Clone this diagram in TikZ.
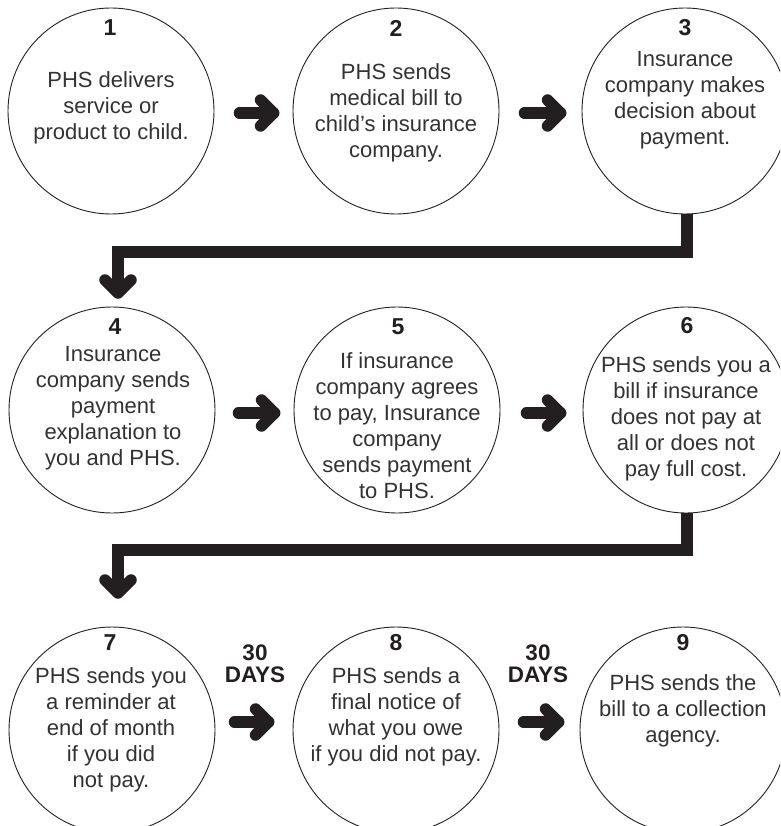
\documentclass[tikz,border=0pt]{standalone}
\usepackage{fontspec}
\setmainfont{Liberation Sans}
\usetikzlibrary{calc}
\definecolor{ink}{RGB}{35,31,32}
\definecolor{txtc}{RGB}{50,50,50}
\begin{document}
\begin{tikzpicture}[x=1pt,y=-1pt,
 circ/.style={circle,draw=ink,line width=0.9pt,minimum size=206pt,inner sep=0pt},
 num/.style={font=\fontsize{23}{24}\selectfont\bfseries,text=ink,inner sep=0pt},
 txt/.style={font=\fontsize{22}{26}\selectfont,text=txtc,align=center,inner sep=0pt},
 days/.style={font=\fontsize{22.5}{22}\selectfont\bfseries,text=ink,align=center,inner sep=0pt},
 shaft/.style={draw=ink,line width=11.5pt,line cap=round,line join=round},
 conn/.style={draw=ink,line width=11.5pt,line join=miter}]
\useasboundingbox (0,0) rectangle (780,826);
\clip (0,0) rectangle (780,826);

% circles
\node[circ] (c1) at (111,111) {};
\node[circ] (c2) at (396,111) {};
\node[circ] (c3) at (685,111) {};
\node[circ] (c4) at (112,410) {};
\node[circ] (c5) at (397,410) {};
\node[circ] (c6) at (686,410) {};
\node[circ] (c7) at (112,730) {};
\node[circ] (c8) at (396,730) {};
\node[circ] (c9) at (683,730) {};

% numbers
\node[num] (n1) at (110,28) {1};
\node[num] (n2) at (396,28) {2};
\node[num] (n3) at (685,28) {3};
\node[num] (n4) at (115,327) {4};
\node[num] (n5) at (398,327) {5};
\node[num] (n6) at (687,326) {6};
\node[num] (n7) at (110,643) {7};
\node[num] (n8) at (396,643) {8};
\node[num] (n9) at (683,643) {9};

% texts
\node[txt] (t1) at (111,108) {PHS delivers\\service or\\product to child.};
\node[txt] (t2) at (396,113) {PHS sends\\medical bill to\\child’s insurance\\company.};
\node[txt] (t3) at (685,100) {Insurance\\company makes\\decision about\\payment.};
\node[txt] (t4) at (113,408) {Insurance\\company sends\\payment\\explanation to\\you and PHS.};
\node[txt] (t5) at (397,426) {If insurance\\company agrees\\to pay, Insurance\\company\\sends payment\\to PHS.};
\node[txt] (t6) at (686,419) {PHS sends you a\\bill if insurance\\does not pay at\\all or does not\\pay full cost.};
\node[txt] (t7) at (111,730) {PHS sends you\\a reminder at\\end of month\\if you did\\not pay.};
\node[txt] (t8) at (396,717) {PHS sends a\\final notice of\\what you owe\\if you did not pay.};
\node[txt] (t9) at (683,711) {PHS sends the\\bill to a collection\\agency.};

% 30 days labels
\node[days] (w1) at (255,664) {30\\DAYS};
\node[days] (w2) at (538,664) {30\\DAYS};

% short arrows
\draw[shaft] ([xshift=25pt,yshift=-2pt]c1.east) -- ([xshift=-19pt,yshift=-2pt]c2.west) coordinate (e1);
\draw[shaft] ($(e1)+(-13,-13)$) -- (e1) -- ($(e1)+(-13,13)$);
\draw[shaft] ([xshift=25pt,yshift=-2pt]c2.east) -- ([xshift=-21pt,yshift=-2pt]c3.west) coordinate (e2);
\draw[shaft] ($(e2)+(-13,-13)$) -- (e2) -- ($(e2)+(-13,13)$);
\draw[shaft] ([xshift=23pt,yshift=-3pt]c4.east) -- ([xshift=-19pt,yshift=-3pt]c5.west) coordinate (e3);
\draw[shaft] ($(e3)+(-13,-13)$) -- (e3) -- ($(e3)+(-13,13)$);
\draw[shaft] ([xshift=26pt,yshift=-3pt]c5.east) -- ([xshift=-22pt,yshift=-3pt]c6.west) coordinate (e4);
\draw[shaft] ($(e4)+(-13,-13)$) -- (e4) -- ($(e4)+(-13,13)$);
\draw[shaft] ([xshift=19pt,yshift=8pt]c7.east) -- ([xshift=-24pt,yshift=8pt]c8.west) coordinate (e5);
\draw[shaft] ($(e5)+(-13,-13)$) -- (e5) -- ($(e5)+(-13,13)$);
\draw[shaft] ([xshift=24pt,yshift=8pt]c8.east) -- ([xshift=-21pt,yshift=8pt]c9.west) coordinate (e6);
\draw[shaft] ($(e6)+(-13,-13)$) -- (e6) -- ($(e6)+(-13,13)$);

% long connectors
\coordinate (k1) at (118,252);
\coordinate (d1) at (118,293);
\draw[conn] ([xshift=2pt]c3.south) |- (k1) -- (d1);
\draw[shaft] ($(d1)+(-13,-13)$) -- (d1) -- ($(d1)+(13,-13)$);
\coordinate (k2) at (118,550);
\coordinate (d2) at (118,593);
\draw[conn] ([xshift=1pt]c6.south) |- (k2) -- (d2);
\draw[shaft] ($(d2)+(-13,-13)$) -- (d2) -- ($(d2)+(13,-13)$);
\end{tikzpicture}
\end{document}
